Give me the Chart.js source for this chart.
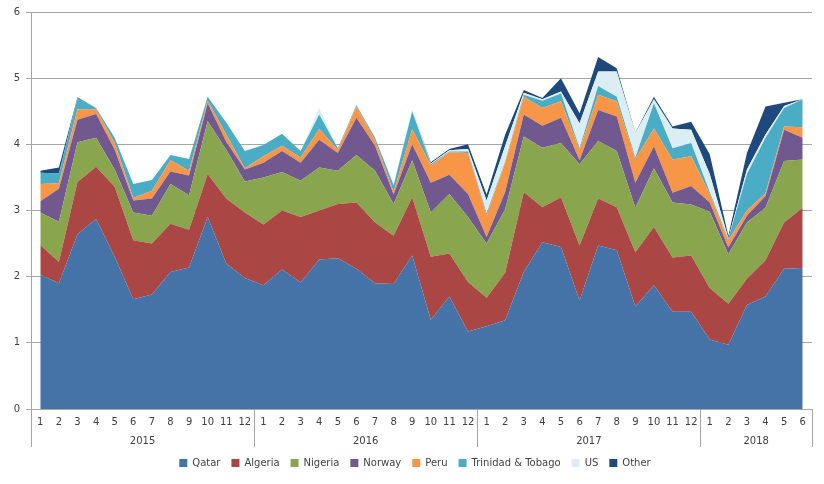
<!DOCTYPE html>
<html>
<head>
<meta charset="utf-8">
<script src="https://cdn.jsdelivr.net/npm/chart.js@4.4.1/dist/chart.umd.min.js"></script>
<style>
  html, body { margin: 0; padding: 0; background: #fff; }
  #wrap { width: 824px; height: 484px; }
</style>
</head>
<body>
<div id="wrap"><canvas id="lng"></canvas></div>
<script>
// months 2015-1 .. 2018-6
const years = ['2015', '2016', '2017', '2018'];
const monthsPerYear = [12, 12, 12, 6];
const months = [];
monthsPerYear.forEach(n => { for (let m = 1; m <= n; m++) months.push(String(m)); });

const seriesNames = ['Qatar', 'Algeria', 'Nigeria', 'Norway', 'Peru', 'Trinidad & Tobago', 'US', 'Other'];
const colors = ['#4572A7', '#AA4643', '#89A54E', '#71588F', '#F79646', '#4BACC6', '#DBEEF4', '#1F497D'];

const qatar = [2.03,1.90,2.64,2.87,2.30,1.66,1.73,2.07,2.14,2.90,2.20,1.98,
  1.87,2.11,1.91,2.26,2.28,2.12,1.90,1.89,2.32,1.35,1.70,1.17,
  1.25,1.34,2.07,2.52,2.45,1.64,2.47,2.40,1.55,1.87,1.47,1.47,
  1.05,0.97,1.57,1.70,2.12,2.13];
const algeria = [0.45,0.32,0.79,0.79,1.06,0.89,0.77,0.73,0.57,0.65,0.98,0.99,
  0.92,0.89,0.99,0.74,0.82,1.00,0.92,0.73,0.88,0.95,0.65,0.75,
  0.43,0.72,1.21,0.53,0.75,0.83,0.71,0.65,0.82,0.88,0.82,0.85,
  0.78,0.62,0.40,0.55,0.70,0.91];
const nigeria = [0.49,0.61,0.60,0.44,0.26,0.42,0.42,0.60,0.52,0.80,0.74,0.47,
  0.71,0.58,0.55,0.65,0.50,0.72,0.78,0.48,0.56,0.67,0.90,0.98,
  0.82,0.96,0.84,0.90,0.82,1.23,0.87,0.85,0.67,0.89,0.83,0.77,
  1.15,0.75,0.85,0.79,0.93,0.73];
const norway = [0.17,0.50,0.34,0.36,0.30,0.18,0.26,0.19,0.30,0.27,0.12,0.18,
  0.22,0.32,0.27,0.42,0.27,0.56,0.38,0.14,0.24,0.45,0.29,0.35,
  0.10,0.26,0.33,0.33,0.38,0.06,0.47,0.52,0.38,0.33,0.15,0.28,
  0.14,0.10,0.10,0.18,0.47,0.33];
const peru = [0.26,0.08,0.16,0.07,0.10,0.04,0.12,0.17,0.07,0.04,0.11,0.02,
  0.10,0.08,0.08,0.16,0.05,0.17,0.08,0.04,0.23,0.26,0.34,0.62,
  0.33,0.44,0.27,0.27,0.25,0.16,0.23,0.23,0.36,0.27,0.50,0.45,
  0.13,0.11,0.08,0.04,0.05,0.16];
const trinidad = [0.17,0.15,0.17,0.02,0.08,0.21,0.16,0.08,0.18,0.06,0.18,0.26,
  0.17,0.18,0.10,0.22,0.02,0.02,0.04,0.10,0.27,0.02,0.01,0.02,
  0.03,0.02,0.03,0.11,0.12,0.02,0.13,0.07,0.02,0.38,0.17,0.20,
  0.03,0.02,0.55,0.84,0.28,0.42];
const us = [0,0,0,0,0,0,0,0,0,0,0,0,
  0,0,0,0.10,0,0.01,0.02,0.02,0.03,0.01,0.02,0.04,
  0.19,0.24,0.03,0.02,0.03,0.38,0.22,0.38,0.37,0.06,0.30,0.20,
  0.27,0.01,0.07,0.05,0.03,0];
const other = [0.03,0.09,0.01,0,0,0,0,0,0,0,0,0,
  0,0,0,0,0,0,0,0,0,0.02,0.02,0.07,
  0.09,0.17,0.04,0.02,0.20,0.15,0.22,0.05,0.01,0.04,0.03,0.12,
  0.30,0.04,0.25,0.42,0.05,0];

const seriesData = [qatar, algeria, nigeria, norway, peru, trinidad, us, other];

// year group boundaries and centres on a 0..n scale that lines up with the month categories
const bounds = [0];
monthsPerYear.forEach(n => bounds.push(bounds[bounds.length - 1] + n));
const yearCentres = years.map((y, i) => (bounds[i] + bounds[i + 1]) / 2);

const axisGrey = '#a6a6a6';
const textCol = '#404040';
const fontFam = '"DejaVu Sans", Verdana, sans-serif';

const separators = {
  id: 'separators',
  afterDraw(c) {
    const x2 = c.scales.x2, area = c.chartArea, ctx = c.ctx;
    ctx.save();
    ctx.strokeStyle = axisGrey;
    ctx.lineWidth = 1;
    bounds.forEach(b => {
      const px = Math.round(x2.getPixelForValue(b)) + 0.5;
      ctx.beginPath();
      ctx.moveTo(px, area.bottom);
      ctx.lineTo(px, x2.bottom);
      ctx.stroke();
    });
    ctx.restore();
  }
};

// legend sits a little right of the canvas centre in the original
const legendShift = {
  id: 'legendShift',
  afterLayout(c) {
    c.legend.left += 9;
    c.legend.right += 9;
  }
};

new Chart(document.getElementById('lng'), {
  type: 'line',
  data: {
    labels: months,
    datasets: seriesData.map((d, i) => ({
      label: seriesNames[i],
      data: d,
      backgroundColor: colors[i],
      borderColor: colors[i],
      borderWidth: 0,
      pointRadius: 0,
      tension: 0,
      fill: i === 0 ? 'origin' : '-1'
    }))
  },
  options: {
    responsive: true,
    maintainAspectRatio: false,
    animation: false,
    layout: { padding: { top: 10, right: 12, left: 0, bottom: 6 } },
    plugins: {
      legend: {
        position: 'bottom',
        labels: { boxWidth: 8, boxHeight: 8, padding: 11, color: textCol, font: { family: fontFam, size: 10 } }
      },
      tooltip: { enabled: false }
    },
    scales: {
      x: {
        weight: 1,
        offset: true,
        grid: { display: false, drawTicks: false },
        border: { display: true, color: axisGrey },
        ticks: { autoSkip: false, maxRotation: 0, color: textCol, font: { family: fontFam, size: 10 }, padding: 7 },
        afterFit(s) { s.height = 24; }
      },
      x2: {
        type: 'linear',
        position: 'bottom',
        weight: 2,
        min: 0,
        max: bounds[bounds.length - 1],
        grid: { display: false, drawTicks: false },
        border: { display: false },
        afterBuildTicks(s) { s.ticks = yearCentres.map(v => ({ value: v })); },
        ticks: {
          autoSkip: false, maxRotation: 0, color: textCol, font: { family: fontFam, size: 10 }, padding: 2,
          callback: v => years[yearCentres.indexOf(v)]
        },
        afterFit(s) { s.height = 14; }
      },
      y: {
        stacked: true,
        min: 0,
        max: 6,
        ticks: { stepSize: 1, color: textCol, font: { family: fontFam, size: 10 }, padding: 6 },
        grid: { color: axisGrey, tickLength: 5 },
        border: { color: axisGrey },
        afterFit(s) { s.width = 31; }
      }
    }
  },
  plugins: [separators, legendShift]
});
</script>
</body>
</html>
